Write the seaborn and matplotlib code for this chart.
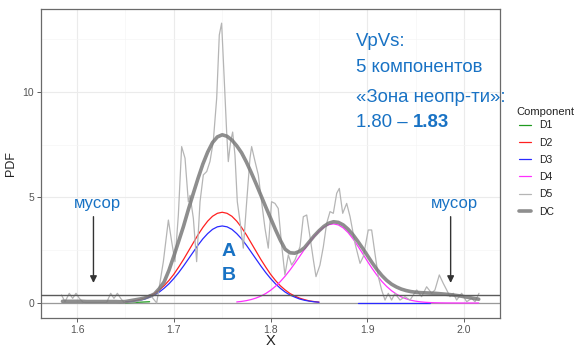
import numpy as np
import pandas as pd
import matplotlib
matplotlib.use("Agg")
import matplotlib.pyplot as plt
from matplotlib.lines import Line2D
import seaborn as sns

# ---------------- data ----------------
STEP = 0.005

d1_start = 1.650
d1_y = [0.01, 0.02, 0.03, 0.04, 0.05, 0.06]

d2_start = 1.650
d2_y = [0.044, 0.068, 0.10, 0.16, 0.23, 0.33, 0.45, 0.62, 0.82, 1.07, 1.36,
        1.70, 2.06, 2.45, 2.84, 3.23, 3.58, 3.88, 4.11, 4.25, 4.30, 4.25,
        4.11, 3.88, 3.58, 3.23, 2.84, 2.45, 2.06, 1.70, 1.36, 1.07, 0.82,
        0.62, 0.45, 0.33, 0.23, 0.16, 0.10, 0.068, 0.044]

d3_start = 1.650
d3_y = [0.037, 0.058, 0.089, 0.13, 0.19, 0.28, 0.38, 0.52, 0.70, 0.91, 1.16,
        1.44, 1.75, 2.08, 2.41, 2.74, 3.04, 3.29, 3.49, 3.61, 3.65, 3.61,
        3.49, 3.29, 3.04, 2.74, 2.41, 2.08, 1.75, 1.44, 1.16, 0.91, 0.70,
        0.52, 0.38, 0.28, 0.19, 0.13, 0.089, 0.058, 0.037]
d3b_x = [1.890, 1.910, 1.930, 1.950, 1.965]
d3b_y = [0.0, 0.0, 0.0, 0.0, 0.0]

d4_start = 1.765
d4_y = [0.050, 0.076, 0.113, 0.165, 0.236, 0.329, 0.450, 0.603, 0.790, 1.014,
        1.272, 1.562, 1.877, 2.207, 2.541, 2.862, 3.154, 3.402, 3.591, 3.710,
        3.75, 3.70, 3.56, 3.34, 3.05, 2.71, 2.35, 1.98, 1.63, 1.31, 1.02,
        0.78, 0.58, 0.42, 0.29, 0.20, 0.13, 0.087, 0.055, 0.034, 0.021,
        0.012, 0.007, 0.004, 0.002, 0.001, 0.0, 0.0, 0.0, 0.0, 0.0]

d5_x = [1.584, 1.5876, 1.592, 1.5955, 1.599, 1.6024, 1.6065, 1.6306, 1.6348,
        1.6382, 1.6417, 1.6451, 1.6486, 1.660, 1.668, 1.6754, 1.6823, 1.6892,
        1.6944, 1.6978, 1.7012, 1.7047, 1.7081, 1.7116, 1.715, 1.7168, 1.7202,
        1.7236, 1.7271, 1.7305, 1.734, 1.7374, 1.7408, 1.7443, 1.747, 1.7494,
        1.7518, 1.7546, 1.7563, 1.7587, 1.7608, 1.7632, 1.7656, 1.7684,
        1.7718, 1.7753, 1.7787, 1.7804, 1.7839, 1.7873, 1.7907, 1.7942,
        1.7976, 1.801, 1.8045, 1.8079, 1.8114, 1.8148, 1.8183, 1.8217,
        1.8252, 1.8304, 1.8338, 1.8373, 1.8407, 1.8442, 1.8469, 1.851,
        1.8545, 1.8579, 1.8614, 1.8648, 1.8683, 1.871, 1.8745, 1.8786,
        1.8821, 1.8872, 1.8924, 1.8958, 1.9009, 1.9044, 1.9078, 1.9113,
        1.9147, 1.9182, 1.9216, 1.925, 1.9285, 1.9337, 1.9388, 1.944,
        1.9509, 1.956, 1.9612, 1.9664, 1.9698, 1.9743, 1.9784, 1.9819,
        1.9853, 1.9888, 1.9922, 1.9974, 2.0026, 2.0077, 2.0112, 2.0153]
d5_y = [0.38, 0.06, 0.46, 0.22, 0.46, 0.22, 0.02, 0.02, 0.46, 0.22, 0.46,
        0.22, 0.02, 0.05, 0.18, 0.40, 0.0, 1.96, 3.93, 2.91, 1.96, 4.17, 7.41,
        6.86, 4.80, 5.10, 4.01, 1.96, 4.80, 6.07, 6.23, 6.71, 7.66, 9.70,
        12.7, 13.26, 10.9, 8.1, 6.7, 7.66, 8.1, 7.0, 4.8, 3.86, 2.6, 4.8,
        6.86, 7.41, 6.71, 6.07, 4.8, 3.54, 2.6, 4.8, 4.72, 4.48, 2.75, 1.33,
        2.28, 1.8, 2.04, 2.67, 4.09, 4.17, 3.14, 2.04, 1.25, 1.8, 2.67, 3.77,
        4.33, 4.25, 5.2, 5.43, 4.25, 4.72, 4.09, 2.83, 1.88, 2.2, 3.46, 3.46,
        2.35, 1.25, 0.62, 0.14, 0.46, 0.14, 0.46, 0.14, 0.30, 0.14, 0.62,
        0.30, 0.77, 0.46, 0.62, 1.33, 0.93, 0.62, 0.30, 0.46, 0.14, 0.46,
        0.06, 0.22, 0.06, 0.46]

dc_start = 1.585
dc_y = [0.08, 0.08, 0.08, 0.08, 0.08, 0.07, 0.07, 0.07, 0.07, 0.07, 0.07,
        0.07, 0.06, 0.07, 0.11, 0.15, 0.19, 0.24, 0.32, 0.43, 0.68, 1.00,
        1.55, 2.22, 2.92, 3.63, 4.42, 5.17, 5.90, 6.58, 7.15, 7.60, 7.87,
        7.97, 7.90, 7.72, 7.45, 7.12, 6.68, 6.18, 5.65, 5.10, 4.55, 4.02,
        3.48, 2.98, 2.55, 2.38, 2.36, 2.45, 2.62, 2.90, 3.18, 3.42, 3.63,
        3.78, 3.85, 3.82, 3.70, 3.50, 3.24, 2.93, 2.60, 2.25, 1.90, 1.58,
        1.30, 1.07, 0.89, 0.76, 0.66, 0.59, 0.54, 0.51, 0.49, 0.48, 0.47,
        0.46, 0.44, 0.42, 0.40, 0.37, 0.34, 0.30, 0.26, 0.22, 0.18]

hline_levels = [0.0, 0.38]

components = ["D1", "D2", "D3", "D4", "D5", "DC"]
comp_colors = {"D1": "#1f9a1f", "D2": "#ff2020", "D3": "#2a2aff",
               "D4": "#ff30ff", "D5": "#b5b5b5", "DC": "#7a7a7a"}

x_ticks = [1.6, 1.7, 1.8, 1.9, 2.0]
x_tick_labels = ["1.6", "1.7", "1.8", "1.9", "2.0"]
y_ticks = [0, 5, 10]
y_tick_labels = ["0", "5", "10"]

notes_lines = ["VpVs:", "5 компонентов", "«Зона неопр-ти»:"]
range_regular = "1.80 – "
range_bold = "1.83"
trash_label = "мусор"
trash_x = [1.617, 1.986]
peak_labels = ["A", "B"]
legend_title = "Component"


def grid(start, n):
    return np.round(start + STEP * np.arange(n), 4)


frames = [
    pd.DataFrame({"x": grid(d1_start, len(d1_y)), "y": d1_y, "c": "D1"}),
    pd.DataFrame({"x": grid(d2_start, len(d2_y)), "y": d2_y, "c": "D2"}),
    pd.DataFrame({"x": grid(d3_start, len(d3_y)), "y": d3_y, "c": "D3"}),
    pd.DataFrame({"x": d3b_x, "y": d3b_y, "c": "D3"}),
    pd.DataFrame({"x": grid(d4_start, len(d4_y)), "y": d4_y, "c": "D4"}),
    pd.DataFrame({"x": d5_x, "y": d5_y, "c": "D5"}),
    pd.DataFrame({"x": grid(dc_start, len(dc_y)), "y": dc_y, "c": "DC"}),
]

# ---------------- figure ----------------
sns.set_theme(style="whitegrid")
plt.rcParams["font.family"] = ["Liberation Sans", "DejaVu Sans"]

fig = plt.figure(figsize=(5.75, 3.47), dpi=100)
ax = fig.add_axes([41 / 575, 1 - 318 / 347, (500 - 41) / 575, (318 - 9) / 347])
ax.set_facecolor("white")

styles = {"D1": (0.9, 1.0), "D2": (0.9, 1.0), "D3": (0.9, 1.0), "D4": (0.9, 1.0),
          "D5": (0.9, 1.0), "DC": (2.6, 0.85)}

for df in frames:
    comp = df["c"].iloc[0]
    lw, al = styles[comp]
    sns.lineplot(data=df, x="x", y="y", color=comp_colors[comp], linewidth=lw,
                 alpha=al, estimator=None, sort=False, ax=ax, legend=False,
                 zorder=3 if comp != "DC" else 4)

ax.axhline(hline_levels[0], color="#9a9a9a", lw=0.9, zorder=2)
ax.axhline(hline_levels[1], color="#5a5a5a", lw=1.0, zorder=5)

ax.set_xlim(1.5628, 2.037)
ax.set_ylim(-0.71, 13.93)
ax.set_xticks(x_ticks)
ax.set_xticklabels(x_tick_labels)
ax.set_yticks(y_ticks)
ax.set_yticklabels(y_tick_labels)
ax.set_xticks([1.65, 1.75, 1.85, 1.95], minor=True)
ax.set_yticks([2.5, 7.5, 12.5], minor=True)
ax.grid(which="major", color="#ebebeb", lw=0.8)
ax.grid(which="minor", color="#f5f5f5", lw=0.5)
ax.tick_params(axis="both", which="major", length=3, width=0.6, color="#444444",
               labelsize=7.5, labelcolor="#555555", pad=2, bottom=True, left=True)
ax.tick_params(which="minor", length=0)
for s in ax.spines.values():
    s.set_color("#6a6a6a")
    s.set_linewidth(0.9)

ax.set_xlabel("X", fontsize=10.5, color="#222222", labelpad=-1)
ax.set_ylabel("PDF", fontsize=9, color="#222222", labelpad=4)

blue = "#1872c4"
fs_note = 13.4
ny = [12.37, 11.14, 9.76]
for txt, yy in zip(notes_lines, ny):
    ax.text(1.888, yy, txt, fontsize=fs_note, color=blue, ha="left", va="center")
t_range = ax.text(1.888, 8.53, range_regular, fontsize=fs_note, color=blue,
                  ha="left", va="center")
ax.annotate(range_bold, xy=(1, 0.5), xycoords=t_range, fontsize=fs_note,
            color=blue, ha="left", va="center", fontweight="bold")

for xx in trash_x:
    ax.text(xx + 0.004, 4.70, trash_label, fontsize=12, color=blue,
            ha="center", va="center")
    ax.annotate("", xy=(xx, 0.95), xytext=(xx, 4.09),
                arrowprops=dict(arrowstyle="-|>", color="#333333", lw=1.0,
                                mutation_scale=10, shrinkA=0, shrinkB=0))

ax.text(1.7563, 2.45, peak_labels[0], fontsize=14, color=blue, ha="center",
        va="center", fontweight="bold")
ax.text(1.7563, 1.30, peak_labels[1], fontsize=14, color=blue, ha="center",
        va="center", fontweight="bold")

fig.text(516 / 575, 1 - 112 / 347, legend_title, fontsize=8, color="#222222",
         ha="left", va="center")
handles = []
for c in components:
    lw, al = styles[c]
    handles.append(Line2D([0], [0], color=comp_colors[c], lw=lw, alpha=al))
leg = fig.legend(handles, components, loc="upper left",
                 bbox_to_anchor=(513 / 575, 1 - 114 / 347), frameon=False,
                 fontsize=7.5, handlelength=1.1, handletextpad=0.8,
                 labelspacing=0.7, borderaxespad=0.2)
for t in leg.get_texts():
    t.set_color("#222222")

fig.savefig("out.png", dpi=100)
